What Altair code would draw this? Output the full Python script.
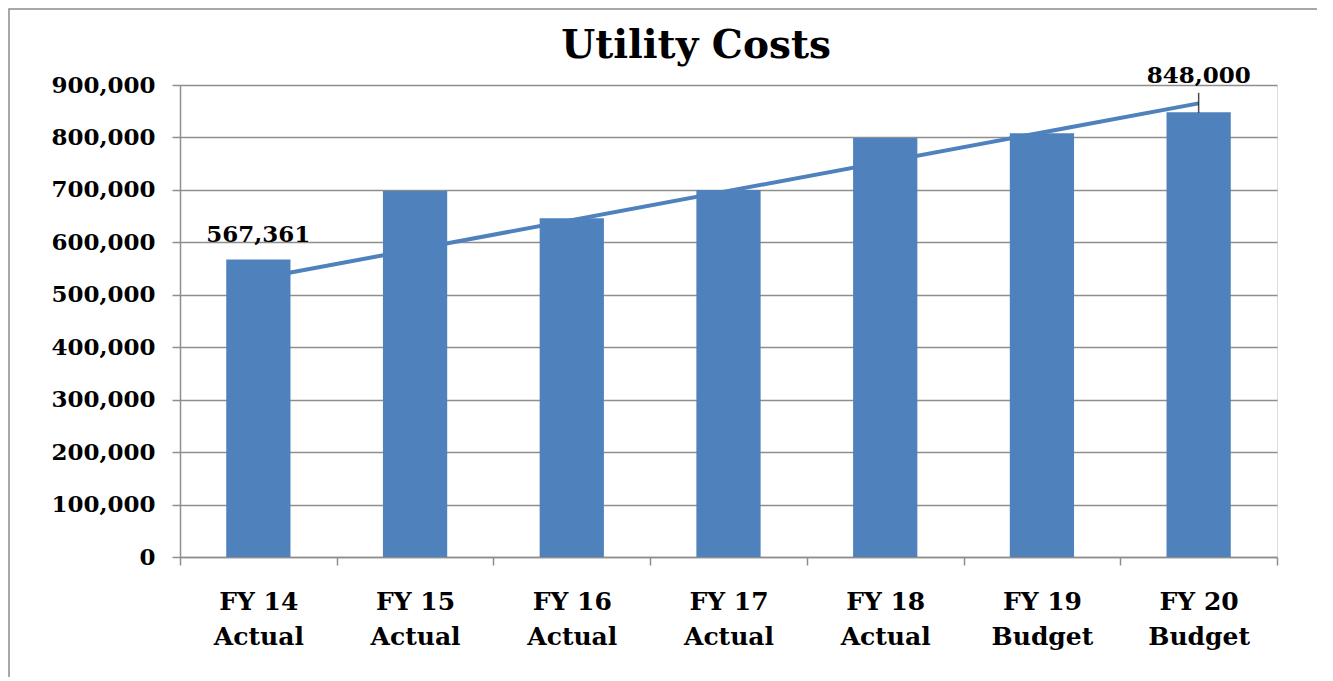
import altair as alt
import pandas as pd

chart_title = ["Utility Costs"]
categories = ["FY 14\nActual", "FY 15\nActual", "FY 16\nActual", "FY 17\nActual",
              "FY 18\nActual", "FY 19\nBudget", "FY 20\nBudget"]
costs = [567361, 698000, 646000, 700000, 799000, 808000, 848000]
trend_categories = ["FY 14\nActual", "FY 20\nBudget"]
trend_values = [531000, 865000]
label_first = ["567,361"]
label_last = ["848,000"]
y_ticks = [0, 100000, 200000, 300000, 400000, 500000, 600000, 700000, 800000, 900000]

FONT = "DejaVu Serif"
BLUE = "#4F81BD"
GRID = "#8E8E8E"

df = pd.DataFrame({"cat": categories, "cost": costs})
trend_df = pd.DataFrame({"cat": trend_categories, "cost": trend_values})
first_df = pd.DataFrame({"cat": [categories[0]], "cost": [costs[0]], "label": label_first})
last_df = pd.DataFrame({"cat": [categories[-1]], "cost": [costs[-1]], "label": label_last})
title_df = pd.DataFrame({"t": chart_title})

xscale = alt.Scale(domain=categories, paddingInner=0, paddingOuter=0)
yscale = alt.Scale(domain=[0, 900000], nice=False)

x_enc = alt.X("cat:N", scale=xscale, sort=categories, title=None,
              axis=alt.Axis(labelExpr="split(datum.label, '\\n')", labelAngle=0,
                            labelAlign="center",
                            tickBand="extent", labelFont=FONT, labelFontWeight="bold",
                            labelFontSize=25, labelColor="black", labelLineHeight=35,
                            labelPadding=24, tickSize=8, tickColor=GRID, tickWidth=1.5,
                            domainColor=GRID, domainWidth=1.5, grid=False,
                            labelBaseline="top"))
y_enc = alt.Y("cost:Q", scale=yscale, title=None,
              axis=alt.Axis(values=y_ticks, format=",d", labelFont=FONT,
                            labelFontWeight="bold", labelFontSize=23, labelColor="black",
                            labelPadding=17, tickSize=8, tickColor=GRID, tickWidth=1.5,
                            domainColor=GRID, domainWidth=1.5, gridColor=GRID,
                            gridWidth=1.5, grid=True))

border = alt.Chart(pd.DataFrame({"a": [0]})).mark_rect(
    fillOpacity=0, stroke="#8C8C8C", strokeWidth=1.5
).encode(x=alt.value(-171), x2=alt.value(1145), y=alt.value(-76), y2=alt.value(700))

title = alt.Chart(title_df).mark_text(font=FONT, fontWeight="bold", fontSize=39,
                                      baseline="alphabetic", align="center",
                                      color="black").encode(
    x=alt.value(516), y=alt.value(-27), text="t:N")

trend = alt.Chart(trend_df).mark_line(color=BLUE, strokeWidth=4).encode(
    x=alt.X("cat:N", scale=xscale, sort=categories), y=alt.Y("cost:Q", scale=yscale))

bars = alt.Chart(df).mark_bar(color=BLUE, width=alt.RelativeBandSize(0.41)).encode(
    x=x_enc, y=y_enc)

t1 = alt.Chart(first_df).mark_text(font=FONT, fontWeight="bold", fontSize=23,
                                   baseline="alphabetic", dy=-17, color="black").encode(
    x=alt.X("cat:N", scale=xscale, sort=categories), y=alt.Y("cost:Q", scale=yscale),
    text="label:N")
t2 = alt.Chart(last_df).mark_text(font=FONT, fontWeight="bold", fontSize=23,
                                  baseline="alphabetic", dy=-29, color="black").encode(
    x=alt.X("cat:N", scale=xscale, sort=categories), y=alt.Y("cost:Q", scale=yscale),
    text="label:N")
leader = alt.Chart(last_df).mark_tick(orient="vertical", size=20, thickness=1.5,
                                      yOffset=-9.5, color="black").encode(
    x=alt.X("cat:N", scale=xscale, sort=categories), y=alt.Y("cost:Q", scale=yscale))

chart = alt.layer(border, title, trend, bars, leader, t1, t2).properties(
    width=1097, height=472,
    autosize=alt.AutoSizeParams(type="none"),
    padding={"left": 172, "top": 77, "right": 40, "bottom": 120},
).configure_view(stroke=None).configure(background="white")

chart.save("out.html", embed_options={"renderer": "svg", "actions": False})
